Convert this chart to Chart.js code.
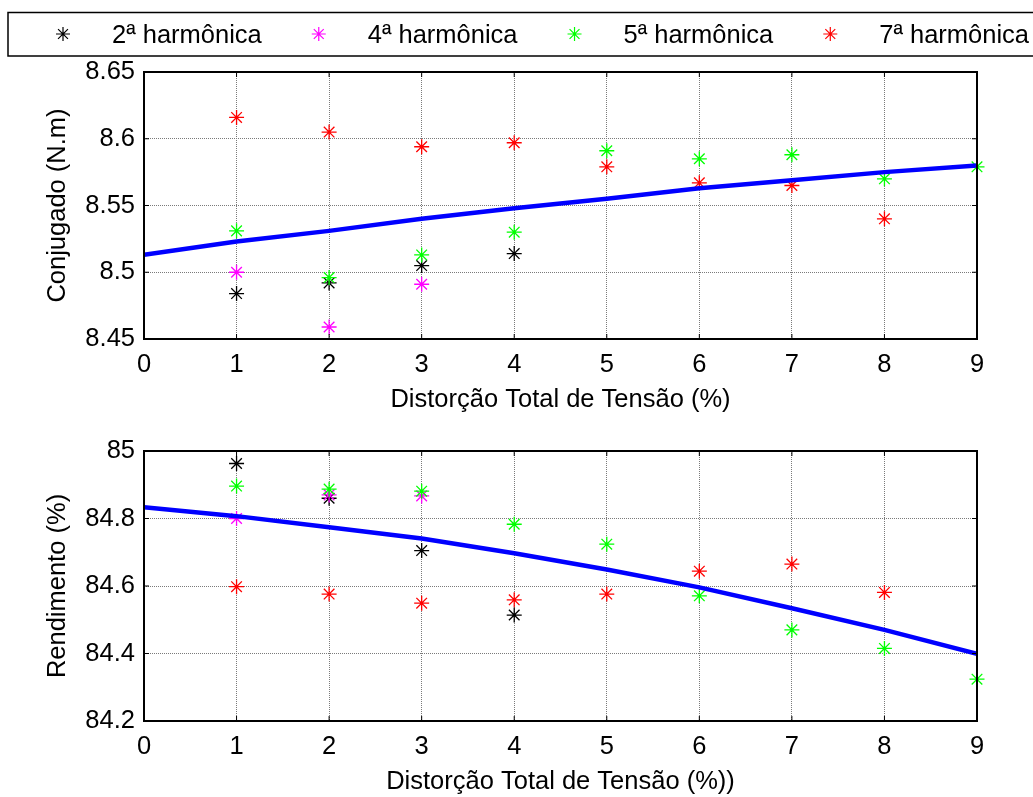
<!DOCTYPE html>
<html>
<head>
<meta charset="utf-8">
<script src="https://cdn.jsdelivr.net/npm/chart.js@4.4.0/dist/chart.umd.min.js"></script>
<style>
  html, body { margin: 0; padding: 0; background: #fff; }
  #wrap { position: relative; width: 1033px; height: 797px; }
  .plot { position: absolute; left: 0; }
  #torque-box { top: 0; }
  #eff-box { top: 420px; }
</style>
</head>
<body>
<div id="wrap">
  <div class="plot" id="torque-box"><canvas id="torque-chart" width="1033" height="420"></canvas></div>
  <div class="plot" id="eff-box"><canvas id="eff-chart" width="1033" height="377"></canvas></div>
</div>
<script>
// Series labels and marker colours
const harmonicNames = ['2ª harmônica', '4ª harmônica', '5ª harmônica', '7ª harmônica'];
const harmonicColors = ['#000000', '#ff00ff', '#00ff00', '#ff0000'];

// THD (%) at which each harmonic was measured
const thd2 = [1, 2, 3, 4];
const thd4 = [1, 2, 3];
const thd5 = [1, 2, 3, 4, 5, 6, 7, 8, 9];
const thd7 = [1, 2, 3, 4, 5, 6, 7, 8];

// Torque (N.m)
const torque2 = [8.484, 8.492, 8.505, 8.514];
const torque4 = [8.500, 8.459, 8.491];
const torque5 = [8.531, 8.496, 8.513, 8.530, 8.591, 8.585, 8.588, 8.570, 8.579];
const torque7 = [8.616, 8.605, 8.594, 8.597, 8.579, 8.567, 8.565, 8.540];

// Efficiency (%)
const eff2 = [84.963, 84.860, 84.705, 84.514];
const eff4 = [84.800, 84.870, 84.867];
const eff5 = [84.896, 84.887, 84.881, 84.783, 84.724, 84.571, 84.470, 84.415, 84.324];
const eff7 = [84.598, 84.576, 84.549, 84.559, 84.576, 84.644, 84.665, 84.581];

// Fitted trend curves
const fitX = [0, 1, 2, 3, 4, 5, 6, 7, 8, 9];
const torqueFit = [8.513, 8.523, 8.531, 8.540, 8.548, 8.555, 8.563, 8.569, 8.575, 8.580];
const effFit = [84.833, 84.807, 84.774, 84.741, 84.697, 84.649, 84.596, 84.534, 84.470, 84.399];

// Axis ticks
const xTicks = [0, 1, 2, 3, 4, 5, 6, 7, 8, 9];
const torqueTicks = [8.45, 8.5, 8.55, 8.6, 8.65];
const effTicks = [84.2, 84.4, 84.6, 84.8, 85];

const fontFamily = "'Liberation Sans', Arial, sans-serif";
const fontSize = 25.5;
const font = { family: fontFamily, size: fontSize };
const thdSeries = [thd2, thd4, thd5, thd7];

function points(xs, ys) {
    return xs.map((x, i) => ({ x: x, y: ys[i] }));
}

function buildDatasets(series, fit) {
    const sets = series.map((ys, i) => ({
        label: harmonicNames[i],
        data: points(thdSeries[i], ys),
        showLine: false,
        pointStyle: 'star',
        pointRadius: 7.5,
        pointHoverRadius: 7.5,
        pointBorderColor: harmonicColors[i],
        pointBorderWidth: 1.3,
        borderColor: harmonicColors[i],
        clip: false,
        order: 4 - i
    }));
    // blue fit curve, drawn above the markers
    sets.push({
        label: 'ajuste',
        data: points(fitX, fit),
        showLine: true,
        borderColor: '#0000ff',
        borderWidth: 4.5,
        pointRadius: 0,
        pointHoverRadius: 0,
        tension: 0,
        fill: false,
        order: 0
    });
    return sets;
}

// box around the plot area with inward tick marks on all four sides
const axesFrame = {
    id: 'axesFrame',
    afterDatasetsDraw(chart) {
        const { ctx, chartArea: a, scales } = chart;
        ctx.save();
        ctx.strokeStyle = '#000';
        ctx.lineWidth = 1;
        ctx.beginPath();
        scales.x.ticks.forEach(t => {
            const px = scales.x.getPixelForValue(t.value);
            ctx.moveTo(px, a.bottom); ctx.lineTo(px, a.bottom - 5);
            ctx.moveTo(px, a.top); ctx.lineTo(px, a.top + 5);
        });
        scales.y.ticks.forEach(t => {
            const py = scales.y.getPixelForValue(t.value);
            ctx.moveTo(a.left, py); ctx.lineTo(a.left + 5, py);
            ctx.moveTo(a.right, py); ctx.lineTo(a.right - 5, py);
        });
        ctx.stroke();
        ctx.lineWidth = 2;
        ctx.strokeRect(a.left, a.top, a.right - a.left, a.bottom - a.top);
        ctx.restore();
    }
};

// legend strip across the top of the figure
const legendStrip = {
    id: 'legendStrip',
    afterDraw(chart) {
        const ctx = chart.ctx;
        ctx.save();
        ctx.lineWidth = 1.5;
        ctx.strokeStyle = '#000';
        ctx.strokeRect(8, 12.5, chart.width, 43.5);
        ctx.font = fontSize + 'px ' + fontFamily;
        ctx.fillStyle = '#000';
        ctx.textBaseline = 'middle';
        let x = 63;
        harmonicNames.forEach((name, i) => {
            ctx.strokeStyle = harmonicColors[i];
            ctx.lineWidth = 1.2;
            Chart.helpers.drawPoint(ctx, { pointStyle: 'star', radius: 7, borderWidth: 1.2 }, x, 34);
            ctx.fillText(name, x + 49, 36);
            x += 49 + ctx.measureText(name).width + 57;
        });
        ctx.restore();
    }
};

function buildScales(yTicks, yTitle, xTitle, xHeight, xTitlePad) {
    return {
        x: {
            type: 'linear',
            min: 0,
            max: 9,
            afterBuildTicks: s => { s.ticks = xTicks.map(v => ({ value: v })); },
            afterFit: s => { s.height = xHeight; },
            ticks: { color: '#000', font: font, padding: 11, maxRotation: 0, autoSkip: false, callback: v => String(v) },
            grid: { color: '#7a7a7a', lineWidth: 1, drawTicks: false },
            border: { display: false, dash: [1, 1] },
            title: { display: true, text: xTitle, color: '#000', font: font, padding: { top: 0, bottom: xTitlePad } }
        },
        y: {
            type: 'linear',
            min: yTicks[0],
            max: yTicks[yTicks.length - 1],
            afterBuildTicks: s => { s.ticks = yTicks.map(v => ({ value: v })); },
            afterFit: s => { s.width = 144; },
            ticks: { color: '#000', font: font, padding: 9, autoSkip: false, callback: v => String(v) },
            grid: { color: '#7a7a7a', lineWidth: 1, drawTicks: false },
            border: { display: false, dash: [1, 1] },
            title: { display: true, text: yTitle, color: '#000', font: font, padding: { top: 43, bottom: 0 } }
        }
    };
}

const commonPlugins = {
    legend: { display: false },
    tooltip: { enabled: false }
};

new Chart(document.getElementById('torque-chart'), {
    type: 'scatter',
    data: { datasets: buildDatasets([torque2, torque4, torque5, torque7], torqueFit) },
    options: {
        responsive: false,
        animation: false,
        events: [],
        layout: { padding: { top: 72, right: 56, left: 0, bottom: 0 } },
        scales: buildScales(torqueTicks, 'Conjugado (N.m)', 'Distorção Total de Tensão (%)', 81, 4.7),
        plugins: commonPlugins
    },
    plugins: [axesFrame, legendStrip]
});

new Chart(document.getElementById('eff-chart'), {
    type: 'scatter',
    data: { datasets: buildDatasets([eff2, eff4, eff5, eff7], effFit) },
    options: {
        responsive: false,
        animation: false,
        events: [],
        layout: { padding: { top: 31, right: 56, left: 0, bottom: 0 } },
        scales: buildScales(effTicks, 'Rendimento (%)', 'Distorção Total de Tensão (%))', 76, 0),
        plugins: commonPlugins
    },
    plugins: [axesFrame]
});
</script>
</body>
</html>
